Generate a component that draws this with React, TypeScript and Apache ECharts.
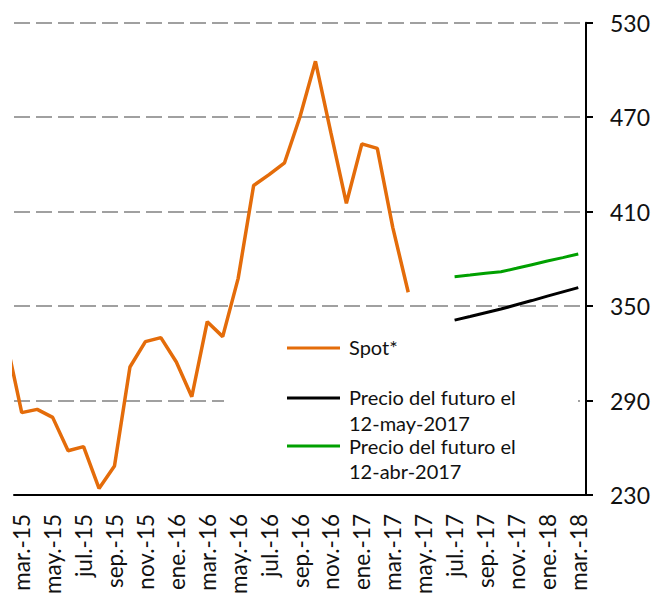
import React, { useEffect, useRef } from "react";
import * as echarts from "echarts";

const categories = [
  "mar.-15", "abr.-15", "may.-15", "jun.-15", "jul.-15", "ago.-15", "sep.-15", "oct.-15", "nov.-15", "dic.-15",
  "ene.-16", "feb.-16", "mar.-16", "abr.-16", "may.-16", "jun.-16", "jul.-16", "ago.-16", "sep.-16", "oct.-16", "nov.-16", "dic.-16",
  "ene.-17", "feb.-17", "mar.-17", "abr.-17", "may.-17", "jun.-17", "jul.-17", "ago.-17", "sep.-17", "oct.-17", "nov.-17", "dic.-17",
  "ene.-18", "feb.-18", "mar.-18",
];

// value for feb.-15, just outside the visible axis (line enters from the left edge)
const spotPrevious = 328.3;
const spotValues = [
  282.3, 284.4, 279.3, 258.1, 260.7, 234.2, 248.4, 311.3, 327.4, 330.0,
  314.5, 292.4, 340.1, 330.6, 367.6, 426.6, 433.5, 441.0, 470.3, 505.5, 460.0, 415.3,
  453.0, 450.2, 400.0, 358.8,
];

const futuresStartIndex = 28; // jul.-17
const futureMay = [341.1, 343.4, 345.8, 348.1, 350.8, 353.5, 356.3, 359.0, 361.7];
const futureApr = [368.7, 369.7, 370.8, 371.8, 374.0, 376.3, 378.6, 380.8, 383.1];

const yTicks = { min: 230, max: 530, interval: 60 };

const seriesNames = ["Spot*", "Precio del futuro el\n12-may-2017", "Precio del futuro el\n12-abr-2017"];
const seriesColors = ["#E46C0A", "#000000", "#00A000"];

const FONT = "Lato, 'Open Sans', sans-serif";

export default function App() {
  const ref = useRef<HTMLDivElement>(null);
  useEffect(() => {
    if (!ref.current) return;
    const chart = echarts.init(ref.current, undefined, { renderer: "svg" });

    const spotData: number[][] = [[-0.5, spotPrevious]];
    spotValues.forEach((v, i) => spotData.push([i + 0.5, v]));
    const mayData = futureMay.map((v, i) => [futuresStartIndex + i + 0.5, v]);
    const aprData = futureApr.map((v, i) => [futuresStartIndex + i + 0.5, v]);

    const lx1 = 287, lx2 = 340, tx = 349;
    const textStyle = (text: string, y: number) => ({
      type: "text",
      z: 5,
      style: { text, x: tx, y, fill: "#111", fontSize: 20, fontFamily: FONT, verticalAlign: "middle", align: "left" },
    });
    const legendLine = (y: number, color: string) => ({
      type: "line",
      z: 5,
      shape: { x1: lx1, y1: y, x2: lx2, y2: y },
      style: { stroke: color, lineWidth: 3 },
    });

    chart.setOption({
      animation: false,
      grid: { left: 14, right: 70, top: 22.7, bottom: 104, containLabel: false },
      xAxis: [
        {
          type: "category",
          data: categories,
          boundaryGap: true,
          axisLine: { lineStyle: { color: "#000", width: 2 } },
          axisTick: { interval: 1, length: 8, lineStyle: { color: "#000", width: 2 } },
          axisLabel: {
            interval: 1,
            rotate: 90,
            margin: 19,
            color: "#111",
            fontSize: 22.5,
            fontFamily: FONT,
          },
          splitLine: { show: false },
        },
        { type: "value", min: 0, max: categories.length, show: false },
      ],
      yAxis: {
        type: "value",
        position: "right",
        min: yTicks.min,
        max: yTicks.max,
        interval: yTicks.interval,
        axisLine: { show: true, onZero: false, lineStyle: { color: "#000", width: 2 } },
        axisTick: { show: true, length: 7, lineStyle: { color: "#000", width: 2 } },
        axisLabel: { margin: 24, color: "#111", fontSize: 23, fontFamily: FONT },
        splitLine: {
          show: true,
          lineStyle: { color: "#A0A0A0", width: 2, type: [16, 6] },
        },
      },
      series: [
        {
          name: seriesNames[0],
          type: "line",
          xAxisIndex: 1,
          data: spotData,
          clip: true,
          showSymbol: false,
          symbol: "none",
          lineStyle: { color: seriesColors[0], width: 3.5 },
          z: 3,
        },
        {
          name: seriesNames[1],
          type: "line",
          xAxisIndex: 1,
          data: mayData,
          showSymbol: false,
          symbol: "none",
          lineStyle: { color: seriesColors[1], width: 3 },
          z: 3,
        },
        {
          name: seriesNames[2],
          type: "line",
          xAxisIndex: 1,
          data: aprData,
          showSymbol: false,
          symbol: "none",
          lineStyle: { color: seriesColors[2], width: 3 },
          z: 3,
        },
      ],
      graphic: [
        { type: "rect", z: 1, shape: { x: 224, y: 330, width: 354, height: 155 }, style: { fill: "#fff" } },
        legendLine(348, seriesColors[0]),
        textStyle("Spot*", 347),
        legendLine(398, seriesColors[1]),
        textStyle("Precio del futuro el", 397),
        textStyle("12-may-2017", 423),
        legendLine(446, seriesColors[2]),
        textStyle("Precio del futuro el", 446),
        textStyle("12-abr-2017", 471),
      ],
    });
    return () => chart.dispose();
  }, []);

  return (
    <div
      ref={ref}
      style={{ position: "fixed", left: 0, top: 0, width: 656, height: 599, background: "#fff" }}
    />
  );
}
